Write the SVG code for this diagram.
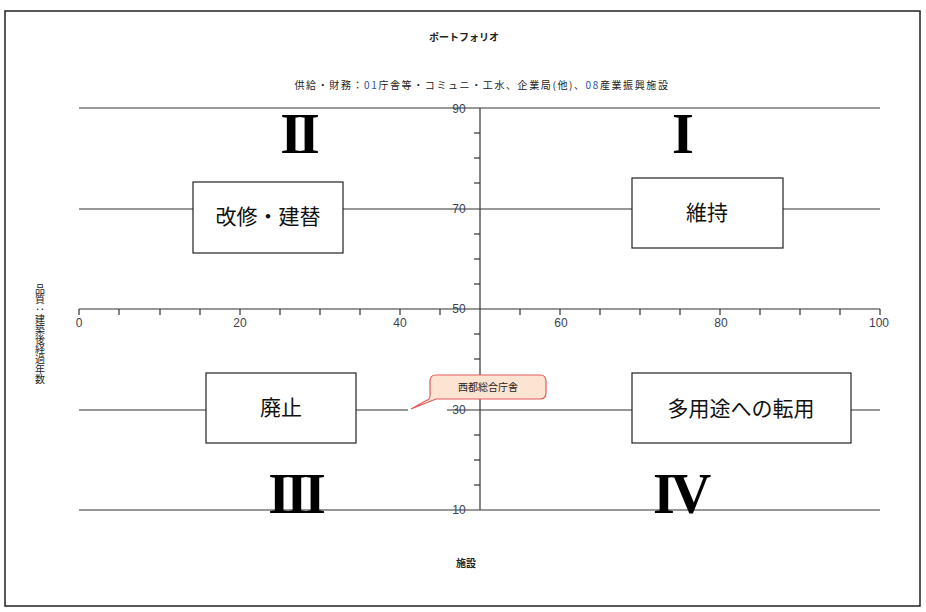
<svg xmlns="http://www.w3.org/2000/svg" width="926" height="612" viewBox="0 0 926 612">
<style>
.grid{stroke:#333;stroke-width:1.2;fill:none}
.tick{stroke:#333;stroke-width:1.2}
.ax{font-family:"Liberation Sans","Noto Sans CJK JP",sans-serif;font-size:12px;fill:#3a3f50}
.lab{font-family:"Noto Sans CJK JP",sans-serif;font-size:10px;fill:#222}
.box rect{fill:#fff;stroke:#222;stroke-width:1.2}
.box text{font-family:"Liberation Serif","Noto Sans CJK JP",serif;font-size:21px;fill:#111;text-anchor:middle;dominant-baseline:central}
.rom{font-family:"Liberation Serif",serif;font-weight:bold;font-size:56px;fill:#000;text-anchor:middle;letter-spacing:-4px}
</style>
<rect x="0" y="0" width="926" height="612" fill="#fff"/>
<rect x="5" y="11" width="915" height="595" fill="none" stroke="#222" stroke-width="1.5"/>
<text x="464" y="41" class="lab" font-size="9" font-weight="bold" text-anchor="middle">ポートフォリオ</text>
<text x="482" y="89" class="lab" font-size="13" letter-spacing="1.6" text-anchor="middle">供給・財務：<tspan fill="#2a4fa8">01</tspan>庁舎等・コミュニ・工水、企業局(他)、<tspan fill="#2a4fa8">08</tspan>産業振興施設</text>
<g id="connectors">
<line class="grid" x1="79" y1="108" x2="880" y2="108"/>
<line class="grid" x1="79" y1="209" x2="880" y2="209"/>
<line class="grid" x1="79" y1="309" x2="880" y2="309"/>
<line class="grid" x1="79" y1="410" x2="408" y2="410"/>
<line class="grid" x1="447" y1="410" x2="880" y2="410"/>
<line class="grid" x1="79" y1="510" x2="880" y2="510"/>
<line class="grid" x1="480" y1="108" x2="480" y2="510"/>
<g class="tick">
<line x1="79" y1="309" x2="79" y2="315"/><line x1="119" y1="309" x2="119" y2="315"/><line x1="160" y1="309" x2="160" y2="315"/><line x1="200" y1="309" x2="200" y2="315"/><line x1="240" y1="309" x2="240" y2="315"/><line x1="280" y1="309" x2="280" y2="315"/><line x1="320" y1="309" x2="320" y2="315"/><line x1="360" y1="309" x2="360" y2="315"/><line x1="400" y1="309" x2="400" y2="315"/><line x1="440" y1="309" x2="440" y2="315"/>
<line x1="520" y1="309" x2="520" y2="315"/><line x1="560" y1="309" x2="560" y2="315"/><line x1="600" y1="309" x2="600" y2="315"/><line x1="640" y1="309" x2="640" y2="315"/><line x1="680" y1="309" x2="680" y2="315"/><line x1="720" y1="309" x2="720" y2="315"/><line x1="760" y1="309" x2="760" y2="315"/><line x1="800" y1="309" x2="800" y2="315"/><line x1="840" y1="309" x2="840" y2="315"/><line x1="880" y1="309" x2="880" y2="315"/>
<line x1="474" y1="133" x2="480" y2="133"/><line x1="474" y1="158" x2="480" y2="158"/><line x1="474" y1="183" x2="480" y2="183"/><line x1="474" y1="234" x2="480" y2="234"/><line x1="474" y1="259" x2="480" y2="259"/><line x1="474" y1="284" x2="480" y2="284"/><line x1="474" y1="334" x2="480" y2="334"/><line x1="474" y1="359" x2="480" y2="359"/><line x1="474" y1="384" x2="480" y2="384"/><line x1="474" y1="435" x2="480" y2="435"/><line x1="474" y1="460" x2="480" y2="460"/><line x1="474" y1="485" x2="480" y2="485"/>
</g>
</g>
<g class="ax" text-anchor="middle">
<text x="79" y="327">0</text><text x="240" y="327">20</text><text x="400" y="327">40</text><text x="561" y="327">60</text><text x="721" y="327">80</text><text x="879" y="327">100</text>
</g>
<g class="ax" text-anchor="middle" font-size="12" fill="#34406a">
<text x="459" y="113">90</text><text x="459" y="213">70</text><text x="459" y="313">50</text><text x="459" y="414">30</text><text x="459" y="514">10</text>
</g>
<text x="40" y="284" class="lab" style="writing-mode:vertical-rl" font-size="9">品質：建築後経過年数</text>
<text x="466" y="567" class="lab" font-weight="bold" text-anchor="middle">施設</text>
<g id="q2"><text x="298" y="153" class="rom">II</text></g>
<g id="q1"><text x="681" y="153" class="rom">I</text></g>
<g id="q3"><text x="295" y="513" class="rom">III</text></g>
<g id="q4"><text x="680" y="513" class="rom">IV</text></g>
<g id="n-kaishu" class="box"><rect x="193" y="182" width="150" height="71"/><text x="268" y="217">改修・建替</text></g>
<g id="n-iji" class="box"><rect x="632" y="178" width="151" height="70"/><text x="707" y="213">維持</text></g>
<g id="n-haishi" class="box"><rect x="206" y="373" width="150" height="70"/><text x="281" y="408">廃止</text></g>
<g id="n-tayoto" class="box"><rect x="632" y="373" width="219" height="70"/><text x="741" y="409">多用途への転用</text></g>
<g id="callout">
<path d="M436,375 H540 Q546,375 546,381 V393 Q546,399 540,399 H436 L411,409 L429,399 Q430,399 430,393 V381 Q430,375 436,375 Z" fill="#fde3d2" stroke="#e2595b" stroke-width="1.2"/>
<text x="488" y="391" class="lab" font-size="10.5" text-anchor="middle">西都総合庁舎</text>
</g>
</svg>
